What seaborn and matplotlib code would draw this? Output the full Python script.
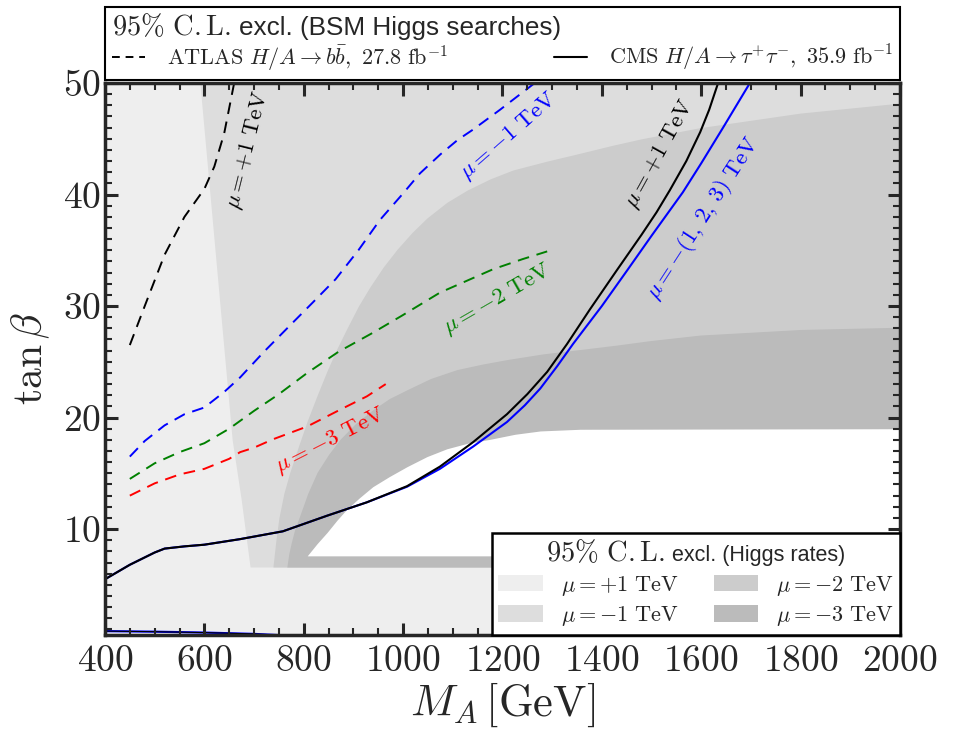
import numpy as np
import matplotlib
matplotlib.use("Agg")
import matplotlib.pyplot as plt
import seaborn as sns
from matplotlib.lines import Line2D
from matplotlib.patches import Patch
from matplotlib.ticker import MultipleLocator
from matplotlib.offsetbox import TextArea, HPacker

# ---- excluded regions from Higgs rates (boundaries) ----
band_lo = 6.6      # lower edge of the mu<0 regions
white_lo = 7.6     # lower edge of the allowed (white) island

# mu = -1 TeV : left edge
m1_x = [591, 656, 674, 692]
m1_y = [50.0, 18.0, 12.7, 6.6]

# mu = -2 TeV : upper/left edge
m2_x = [738, 744, 750, 760, 772, 790, 807, 827, 847, 867, 887, 910, 933, 960, 988, 1018,
        1048, 1088, 1129, 1175, 1221, 1290, 1356, 1420, 1480, 1598, 1799, 2000]
m2_y = [6.6, 9.0, 11.0, 13.2, 15.1, 17.5, 19.7, 22.0, 24.2, 26.2, 28.0, 30.0, 31.7, 33.5, 35.1, 36.6,
        37.9, 39.3, 40.4, 41.4, 42.2, 43.0, 43.7, 44.4, 45.0, 46.0, 47.3, 48.2]

# mu = -3 TeV : upper/left edge
m3_x = [766, 770, 775, 782, 792, 808, 827, 850, 873, 905, 939, 972, 1008, 1055, 1108, 1160,
        1209, 1280, 1356, 1430, 1497, 1598, 1800, 2000]
m3_y = [6.6, 7.8, 8.8, 10.0, 11.2, 13.2, 15.1, 16.7, 18.05, 19.5, 20.7, 21.7, 22.5, 23.5, 24.3, 24.8,
        25.2, 25.7, 26.1, 26.5, 26.9, 27.4, 27.9, 28.1]

# allowed island (upper edge)
ok_x = [807, 827, 847, 867, 887, 912, 939, 972, 1008, 1048, 1088, 1130, 1175, 1225, 1276, 1356, 2000]
ok_y = [7.6, 8.7, 9.7, 10.8, 11.8, 12.8, 13.8, 14.7, 15.6, 16.5, 17.2, 17.7, 18.05, 18.5, 18.8, 18.95, 19.0]

# ---- ATLAS H/A -> bb (dashed) ----
atl_p1_x = [450, 480, 520, 560, 600, 620, 640, 660]
atl_p1_y = [26.5, 30.0, 34.6, 38.0, 40.5, 42.5, 45.5, 50.0]

atl_m1_x = [450, 480, 520, 560, 600, 640, 672, 720, 771, 820, 864, 910, 953, 1000,
            1034, 1075, 1110, 1140, 1195, 1265]
atl_m1_y = [16.5, 17.9, 19.3, 20.3, 20.9, 22.3, 23.6, 25.9, 28.2, 30.4, 32.4, 35.0, 37.7, 40.1,
            41.9, 43.6, 44.9, 45.8, 47.6, 50.0]

atl_m2_x = [450, 500, 550, 600, 650, 700, 750, 807, 870, 939, 1000, 1074, 1130, 1181, 1240, 1290]
atl_m2_y = [14.5, 15.9, 16.9, 17.7, 19.0, 20.6, 22.1, 24.0, 25.9, 27.6, 29.2, 31.2, 32.3, 33.3, 34.2, 34.9]

atl_m3_x = [450, 500, 550, 600, 650, 672, 700, 738, 807, 873, 927, 965]
atl_m3_y = [13.0, 14.1, 14.9, 15.4, 16.3, 16.9, 17.3, 18.05, 19.2, 20.7, 21.9, 23.0]

# ---- CMS H/A -> tautau (solid) ----
cms_p1_x = [400, 450, 500, 520, 560, 600, 672, 758, 847, 927, 1008, 1074, 1141, 1209,
            1250, 1290, 1330, 1376, 1430, 1480, 1510, 1537, 1570, 1598, 1616, 1634]
cms_p1_y = [5.5, 6.8, 7.9, 8.25, 8.45, 8.6, 9.1, 9.8, 11.2, 12.4, 13.85, 15.6, 17.8, 20.3,
            22.1, 24.1, 26.6, 29.7, 33.2, 36.4, 38.4, 40.4, 43.0, 45.6, 47.6, 50.0]

cms_m_x = [400, 450, 500, 520, 560, 600, 672, 758, 847, 927, 1008, 1074, 1141, 1209,
           1245, 1276, 1310, 1342, 1400, 1451, 1500, 1563, 1600, 1644, 1698]
cms_m_y = [5.5, 6.8, 7.9, 8.25, 8.45, 8.6, 9.1, 9.8, 11.2, 12.4, 13.8, 15.4, 17.4, 19.6,
           21.1, 22.6, 24.6, 26.6, 30.0, 33.2, 36.3, 40.2, 42.8, 46.0, 50.0]

cms_low_x = [400, 500, 600, 700, 770]
cms_low_y = [0.85, 0.80, 0.72, 0.60, 0.45]

greys = {"+1": "#eeeeee", "-1": "#dddddd", "-2": "#cccccc", "-3": "#bbbbbb"}

sns.set_style("ticks")
plt.rcParams.update({
    "font.family": "serif",
    "font.serif": ["cmr10"],
    "mathtext.fontset": "cm",
    "axes.formatter.use_mathtext": True,
})

fig, ax = plt.subplots(figsize=(9.57, 7.3), dpi=100)
fig.subplots_adjust(left=0.1097, right=0.9404, bottom=0.1301, top=0.8863)

# shaded regions
ax.fill_between([400, 2000], 0, 55, color=greys["+1"], lw=0, zorder=0)
ax.fill_betweenx(m1_y, m1_x, 2000, color=greys["-1"], lw=0, zorder=0)
ax.fill_between([m1_x[0], 2000], 50, 55, color=greys["-1"], lw=0, zorder=0)
ax.fill_between(m2_x, band_lo, m2_y, color=greys["-2"], lw=0, zorder=0)
ax.fill_between(m3_x, band_lo, m3_y, color=greys["-3"], lw=0, zorder=0)
ax.fill_between(ok_x, white_lo, ok_y, color="white", lw=0, zorder=0)

dash = (0, (6, 4))
for xs, ys, c in [(atl_p1_x, atl_p1_y, "black"), (atl_m1_x, atl_m1_y, "blue"),
                  (atl_m2_x, atl_m2_y, "green"), (atl_m3_x, atl_m3_y, "red")]:
    sns.lineplot(x=xs, y=ys, color=c, lw=1.4, ls=dash, ax=ax, estimator=None, sort=False)

sns.lineplot(x=cms_m_x, y=cms_m_y, color="blue", lw=1.5, ax=ax, estimator=None, sort=False)
sns.lineplot(x=cms_p1_x, y=cms_p1_y, color="black", lw=1.5, ax=ax, estimator=None, sort=False)
sns.lineplot(x=cms_low_x, y=cms_low_y, color="blue", lw=1.6, ax=ax, estimator=None, sort=False)
sns.lineplot(x=cms_low_x, y=cms_low_y, color="black", lw=0.8, ax=ax, estimator=None, sort=False)

# curve labels
lab = dict(fontsize=16.5, ha="center", va="center", rotation_mode="anchor")
ax.text(688, 44.0, r"$\mu = +1\ \mathrm{TeV}$", color="black", rotation=76, **lab)
ax.text(1213, 45.2, r"$\mu = -1\ \mathrm{TeV}$", color="blue", rotation=41, **lab)
ax.text(1189, 30.6, r"$\mu = -2\ \mathrm{TeV}$", color="green", rotation=30, **lab)
ax.text(853, 17.9, r"$\mu = -3\ \mathrm{TeV}$", color="red", rotation=27, **lab)
ax.text(1517, 43.6, r"$\mu = +1\ \mathrm{TeV}$", color="black", rotation=61, **lab)
ax.text(1603, 37.9, r"$\mu = -(1,\,2,\,3)\ \mathrm{TeV}$", color="blue", rotation=57, **lab)

ax.set_xlim(400, 2000)
ax.set_ylim(0.5, 50)
ax.set_xlabel(r"$M_A\,[\mathrm{GeV}]$", fontsize=32, labelpad=2)
ax.set_ylabel(r"$\tan\beta$", fontsize=30, labelpad=8)

ax.xaxis.set_major_locator(MultipleLocator(200))
ax.xaxis.set_minor_locator(MultipleLocator(50))
ax.yaxis.set_major_locator(MultipleLocator(10))
ax.yaxis.set_minor_locator(MultipleLocator(1))
ax.set_axisbelow(False)
ax.tick_params(which="both", direction="in", top=True, right=True)
ax.tick_params(which="major", length=9, width=2.2, labelsize=27)
ax.tick_params(axis="x", which="major", pad=7)
ax.tick_params(axis="y", which="major", pad=3)
ax.tick_params(which="minor", length=5, width=1.5)
for s in ax.spines.values():
    s.set_linewidth(2.5)
    s.set_zorder(4)


def mixed_title(leg, rest, cl_size, rest_size, sep):
    # "95% C.L." in Computer Modern, the rest in a sans font
    cl = TextArea(r"$95\%\ \mathrm{C.L.}$", textprops=dict(fontsize=cl_size))
    tx = TextArea(rest, textprops=dict(fontsize=rest_size, family="Liberation Sans"))
    box = HPacker(children=[cl, tx], align="baseline", pad=0, sep=sep)
    box.set_figure(fig)
    leg._legend_box._children[0] = box


# legend for the searches (above the axes)
h_top = [Line2D([], [], color="black", lw=1.4, ls=(0, (4, 3))),
         Line2D([], [], color="black", lw=1.5)]
l_top = [r"$\mathrm{ATLAS}\ H/A \to b\bar{b},\ 27.8\ \mathrm{fb}^{-1}$",
         r"$\mathrm{CMS}\ H/A \to \tau^{+}\tau^{-},\ 35.9\ \mathrm{fb}^{-1}$"]
leg1 = ax.legend(h_top, l_top, title="excl. (BSM Higgs searches)",
                 loc="lower left", bbox_to_anchor=(0, 1.0054, 1, 0.136), mode="expand",
                 ncol=2, borderaxespad=0, fancybox=False, edgecolor="black", framealpha=1,
                 fontsize=16, alignment="left", handlelength=1.5, handletextpad=1.0,
                 borderpad=0.3, labelspacing=0.1)
mixed_title(leg1, "excl. (BSM Higgs searches)", 20.5, 18.8, 6)
leg1.get_frame().set_linewidth(1.5)
ax.add_artist(leg1)

# legend for the Higgs-rate regions
h_bot = [Patch(fc=greys[k], ec="none") for k in ["+1", "-1", "-2", "-3"]]
l_bot = [r"$\mu = +1\ \mathrm{TeV}$", r"$\mu = -1\ \mathrm{TeV}$",
         r"$\mu = -2\ \mathrm{TeV}$", r"$\mu = -3\ \mathrm{TeV}$"]
leg2 = ax.legend(h_bot, l_bot, title="excl. (Higgs rates)",
                 loc="lower right", ncol=2, borderaxespad=0, fancybox=False,
                 edgecolor="black", framealpha=1, fontsize=16,
                 handlelength=2.0, handleheight=0.75, handletextpad=0.8,
                 columnspacing=1.6, borderpad=0.3, labelspacing=0.3)
mixed_title(leg2, "excl. (Higgs rates)", 20.5, 15.5, 5)
leg2.get_frame().set_linewidth(1.8)
leg2.set_zorder(5)

fig.savefig("out.png", dpi=100)
